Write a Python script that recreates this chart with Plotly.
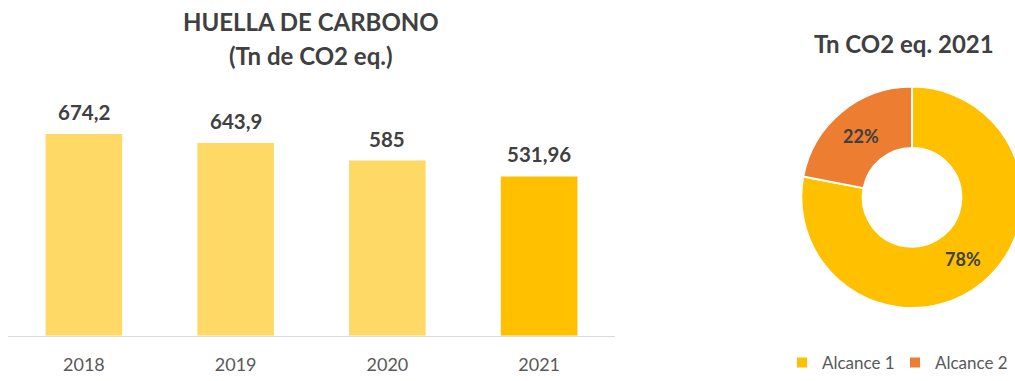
import plotly.graph_objects as go

# Carbon footprint per year (tonnes CO2 eq.)
years = ["2018", "2019", "2020", "2021"]
emissions = [674.2, 643.9, 585, 531.96]
bar_colors = ["#FFD966", "#FFD966", "#FFD966", "#FFC000"]

# 2021 split by scope
scopes = ["Alcance 1", "Alcance 2"]
scope_share = [78, 22]
scope_colors = ["#FFC000", "#ED7D31"]

# the canvas is a little wider than the view; the donut runs off the right edge
W, H = 1030, 381
FONT = "Lato, 'Open Sans', sans-serif"
DARK = "#404040"
GREY = "#595959"


def px_x(x):
    return x / W


def px_y(y):
    return 1 - y / H


fig = go.Figure()

fig.add_trace(go.Bar(
    x=years, y=emissions,
    marker=dict(color=bar_colors, line=dict(width=0)),
    showlegend=False, hoverinfo="skip",
))

fig.add_trace(go.Pie(
    labels=scopes, values=scope_share,
    hole=0.445, sort=False, direction="clockwise", rotation=0,
    marker=dict(colors=scope_colors, line=dict(color="white", width=2)),
    texttemplate="%{percent:.0%}",
    textposition="inside", insidetextorientation="horizontal",
    textfont=dict(family=FONT, size=18, color=DARK, weight="bold"),
    domain=dict(x=[px_x(799.5), px_x(1024.5)], y=[px_y(313), px_y(88)]),
    hoverinfo="skip",
))

# value labels above the bars (category index on the x axis)
for i, v in enumerate(emissions):
    fig.add_annotation(
        x=i, y=v, xref="x", yref="y",
        text=f"{v:g}".replace(".", ","),
        showarrow=False, yanchor="middle", yshift=22,
        font=dict(family=FONT, size=20.5, color=DARK, weight="bold"),
    )

fig.add_annotation(
    x=px_x(311), y=px_y(22), xref="paper", yref="paper",
    text="HUELLA DE CARBONO", showarrow=False,
    xanchor="center", yanchor="middle",
    font=dict(family=FONT, size=24, color=DARK, weight="bold"),
)
fig.add_annotation(
    x=px_x(311), y=px_y(56), xref="paper", yref="paper",
    text="(Tn de CO2 eq.)", showarrow=False,
    xanchor="center", yanchor="middle",
    font=dict(family=FONT, size=24, color=DARK, weight="bold"),
)
fig.add_annotation(
    x=px_x(904), y=px_y(44), xref="paper", yref="paper",
    text="Tn CO2 eq. 2021", showarrow=False,
    xanchor="center", yanchor="middle",
    font=dict(family=FONT, size=24, color=DARK, weight="bold"),
)

fig.update_layout(
    width=W, height=H,
    margin=dict(l=0, r=0, t=0, b=0),
    paper_bgcolor="white", plot_bgcolor="white",
    separators=",.",
    bargap=0.495,
    xaxis=dict(
        type="category",
        range=[-0.5, len(years) - 0.5],
        domain=[px_x(8), px_x(615)],
        showline=True, linecolor="#D9D9D9", linewidth=1,
        showgrid=False, ticks="", ticklabelstandoff=13,
        tickfont=dict(family=FONT, size=18, color=GREY),
    ),
    yaxis=dict(
        domain=[px_y(341), px_y(100)],
        range=[0, 792.8],
        visible=False, showgrid=False, zeroline=False,
    ),
    showlegend=True,
    legend=dict(
        orientation="h", x=px_x(782), y=px_y(369),
        xanchor="left", yanchor="middle",
        font=dict(family=FONT, size=17, color=GREY),
        itemwidth=30, entrywidth=68, entrywidthmode="pixels",
        bgcolor="rgba(0,0,0,0)",
    ),
)

fig.write_html(
    "out.html",
    post_script="document.documentElement.style.overflow='hidden';"
                "document.body.style.overflow='hidden';"
                "document.body.style.margin='0';",
)
